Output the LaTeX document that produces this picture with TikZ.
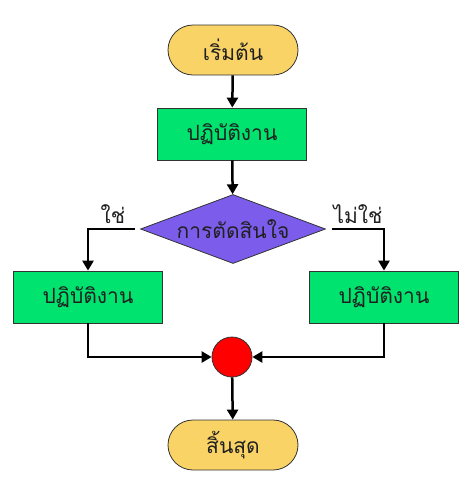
\documentclass[tikz,border=0pt]{standalone}
\usepackage{fontspec}
\newfontfamily\thaifont[Script=Thai]{Loma}
\usetikzlibrary{shapes.geometric,arrows.meta}
\definecolor{termfill}{HTML}{FAD367}
\definecolor{procfill}{HTML}{00E36E}
\definecolor{decfill}{HTML}{7C5CEB}
\definecolor{dotfill}{HTML}{FF0000}
\definecolor{txt}{HTML}{202020}
\begin{document}
\begin{tikzpicture}[x=1pt,y=-1pt,
  every node/.style={font=\thaifont\fontsize{21}{24}\selectfont,text=txt},
  term/.style={draw=black!80,line width=0.8pt,fill=termfill,rounded corners=25pt,minimum width=130pt,minimum height=50pt,inner sep=0pt},
  proc/.style={draw=black!80,line width=0.8pt,fill=procfill,minimum width=149pt,minimum height=52pt,inner sep=0pt},
  dec/.style={draw=black!80,line width=0.8pt,fill=decfill,diamond,aspect=2.68,minimum width=185pt,minimum height=69pt,inner sep=0pt},
  dot/.style={draw=black!80,line width=0.8pt,fill=dotfill,circle,minimum size=40pt,inner sep=0pt},
  lbl/.style={inner sep=0pt},
  flow/.style={line width=2.5pt,-{Triangle[length=10pt,width=11pt]}}
]
\useasboundingbox (0,0) rectangle (471,483);
\node[term] (start) at (233,50) {เริ่มต้น};
\node[proc] (p1) at (232,134) {ปฏิบัติงาน};
\node[dec] (d) at (233,229) {การตัดสินใจ};
\node[proc] (pl) at (88,297) {ปฏิบัติงาน};
\node[proc] (pr) at (384,297) {ปฏิบัติงาน};
\node[dot] (c) at (232,357) {};
\node[term] (end) at (233,445) {สิ้นสุด};
\node[lbl] (yes) at (113,214) {ใช่};
\node[lbl] (no) at (358,214) {ไม่ใช่};
\draw[flow] (start) -- (p1);
\draw[flow] (p1) -- (d);
\draw[flow] ([xshift=-5pt]d.west) -| (pl.north);
\draw[flow] ([xshift=6pt]d.east) -| (pr.north);
\draw[flow] (pl.south) |- (c.west);
\draw[flow] (pr.south) |- (c.east);
\draw[flow] (c) -- (end);
\end{tikzpicture}
\end{document}
